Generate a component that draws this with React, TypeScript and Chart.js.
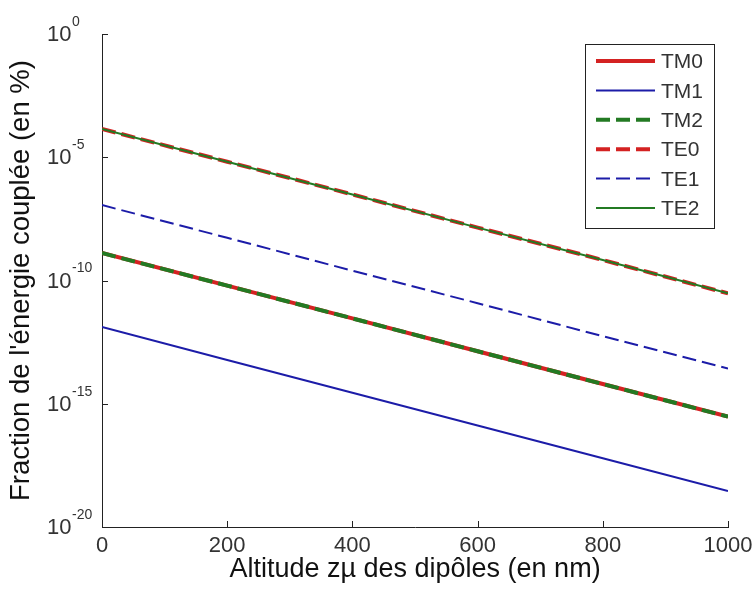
import React, { useEffect, useRef } from "react";
import { Chart, registerables } from "chart.js";

Chart.register(...registerables);

// ---- data ----
const altitudes = [0, 200, 400, 600, 800, 1000];
const tm0 = [1.3e-9, 6.2e-11, 2.9e-12, 1.35e-13, 6.3e-15, 3.0e-16];
const tm1 = [1.3e-12, 6.0e-14, 2.8e-15, 1.3e-16, 6.2e-18, 2.9e-19];
const tm2 = [1.3e-9, 6.2e-11, 2.9e-12, 1.35e-13, 6.3e-15, 3.0e-16];
const te0 = [1.4e-4, 6.6e-6, 3.1e-7, 1.4e-8, 6.8e-10, 3.0e-11];
const te1 = [1.15e-7, 5.4e-9, 2.5e-10, 1.2e-11, 5.5e-13, 2.7e-14];
const te2 = [1.4e-4, 6.6e-6, 3.1e-7, 1.4e-8, 6.8e-10, 3.0e-11];
const seriesLabels = ["TM0", "TM1", "TM2", "TE0", "TE1", "TE2"];
const xTicks = [0, 200, 400, 600, 800, 1000];
const yTickExponents = [-20, -15, -10, -5, 0];
const xTitle = "Altitude zµ des dipôles (en nm)";
const yTitle = "Fraction de l'énergie couplée (en %)";

const FONT = '"Liberation Sans", Arial, Helvetica, sans-serif';
const RED = "#d42222";
const BLUE = "#1c1ca8";
const GREEN = "#237a23";
const INK = "#222222";

const toPts = (arr: number[]) => arr.map((v, i) => ({ x: altitudes[i], y: v }));

const decorPlugin = {
  id: "decor",
  afterDraw(chart: any) {
    const ctx: CanvasRenderingContext2D = chart.ctx;
    const xs = chart.scales.x;
    const ys = chart.scales.y;
    const area = chart.chartArea;
    ctx.save();
    ctx.strokeStyle = INK;
    ctx.lineWidth = 1;
    // inward ticks
    for (const v of xTicks) {
      const px = Math.round(xs.getPixelForValue(v)) + 0.5;
      ctx.beginPath();
      ctx.moveTo(px, area.bottom);
      ctx.lineTo(px, area.bottom - 6);
      ctx.stroke();
    }
    for (const e of yTickExponents) {
      const py = Math.round(ys.getPixelForValue(Math.pow(10, e))) + 0.5;
      ctx.beginPath();
      ctx.moveTo(area.left, py);
      ctx.lineTo(area.left + 6, py);
      ctx.stroke();
    }
    // y tick labels with superscript exponent
    ctx.fillStyle = "#333";
    ctx.textBaseline = "middle";
    ctx.textAlign = "left";
    for (const e of yTickExponents) {
      const py = ys.getPixelForValue(Math.pow(10, e));
      ctx.font = `22px ${FONT}`;
      ctx.fillText("10", 47, py + 1);
      ctx.font = `14px ${FONT}`;
      ctx.fillText(String(e), 72, py - 12);
    }
    // legend
    const bx = 585, by = 44, bw = 129, bh = 184;
    ctx.fillStyle = "#ffffff";
    ctx.fillRect(bx, by, bw, bh);
    ctx.strokeStyle = INK;
    ctx.lineWidth = 1;
    ctx.strokeRect(bx + 0.5, by + 0.5, bw, bh);
    const ds = chart.data.datasets;
    ds.forEach((d: any, i: number) => {
      const ly = 61 + i * 29.4;
      ctx.save();
      ctx.strokeStyle = d.borderColor;
      ctx.lineWidth = d.borderWidth;
      ctx.setLineDash(d.borderDash || []);
      ctx.beginPath();
      ctx.moveTo(596, ly);
      ctx.lineTo(655, ly);
      ctx.stroke();
      ctx.restore();
      ctx.fillStyle = "#333";
      ctx.font = `21px ${FONT}`;
      ctx.textBaseline = "middle";
      ctx.fillText(d.label, 661, ly + 1.5);
    });
    ctx.restore();
  },
};

export default function App() {
  const ref = useRef<HTMLCanvasElement | null>(null);
  useEffect(() => {
    if (!ref.current) return;
    const series = [tm0, tm1, tm2, te0, te1, te2];
    const colors = [RED, BLUE, GREEN, RED, BLUE, GREEN];
    const widths = [4, 2, 4, 4, 2, 2];
    const dashes = [[], [], [14, 6], [14, 6], [14, 6], []];
    const chart = new Chart(ref.current, {
      type: "line",
      data: {
        datasets: series.map((s, i) => ({
          label: seriesLabels[i],
          data: toPts(s),
          borderColor: colors[i],
          backgroundColor: colors[i],
          borderWidth: widths[i],
          borderDash: dashes[i],
          pointRadius: 0,
          tension: 0,
          fill: false,
          order: 10 - i,
        })),
      },
      options: {
        responsive: false,
        animation: false,
        events: [],
        layout: { padding: { left: 0, top: 34, right: 25, bottom: 0 } },
        plugins: { legend: { display: false }, tooltip: { enabled: false } },
        scales: {
          x: {
            type: "linear",
            min: 0,
            max: 1000,
            afterBuildTicks: (s: any) => {
              s.ticks = xTicks.map((v) => ({ value: v }));
            },
            afterFit: (s: any) => {
              s.height = 62;
              s.paddingLeft = 0;
              s.paddingRight = 0;
            },
            grid: { display: false, drawTicks: false },
            border: { display: true, color: INK, width: 1 },
            ticks: {
              color: "#333",
              font: { family: FONT, size: 22 },
              padding: 6,
              maxRotation: 0,
              autoSkip: false,
              callback: (v: any) => String(v),
            },
            title: {
              display: true,
              text: xTitle,
              color: "#111",
              font: { family: FONT, size: 27 },
              padding: { top: 0, bottom: 3 },
            },
          },
          y: {
            type: "logarithmic",
            min: 1e-20,
            max: 1,
            afterBuildTicks: (s: any) => {
              s.ticks = yTickExponents.map((e) => ({ value: Math.pow(10, e) }));
            },
            afterFit: (s: any) => {
              s.width = 102;
              s.paddingTop = 0;
              s.paddingBottom = 0;
            },
            grid: { display: false, drawTicks: false },
            border: { display: true, color: INK, width: 1 },
            ticks: { callback: () => "" },
            title: {
              display: true,
              text: yTitle,
              color: "#111",
              font: { family: FONT, size: 27.5 },
              padding: { top: 5, bottom: 0 },
            },
          },
        },
      },
      plugins: [decorPlugin],
    });
    return () => chart.destroy();
  }, []);
  return (
    <div style={{ position: "fixed", left: 0, top: 0, width: 753, height: 589, background: "#fff" }}>
      <canvas ref={ref} width={753} height={589} style={{ display: "block" }} />
    </div>
  );
}
